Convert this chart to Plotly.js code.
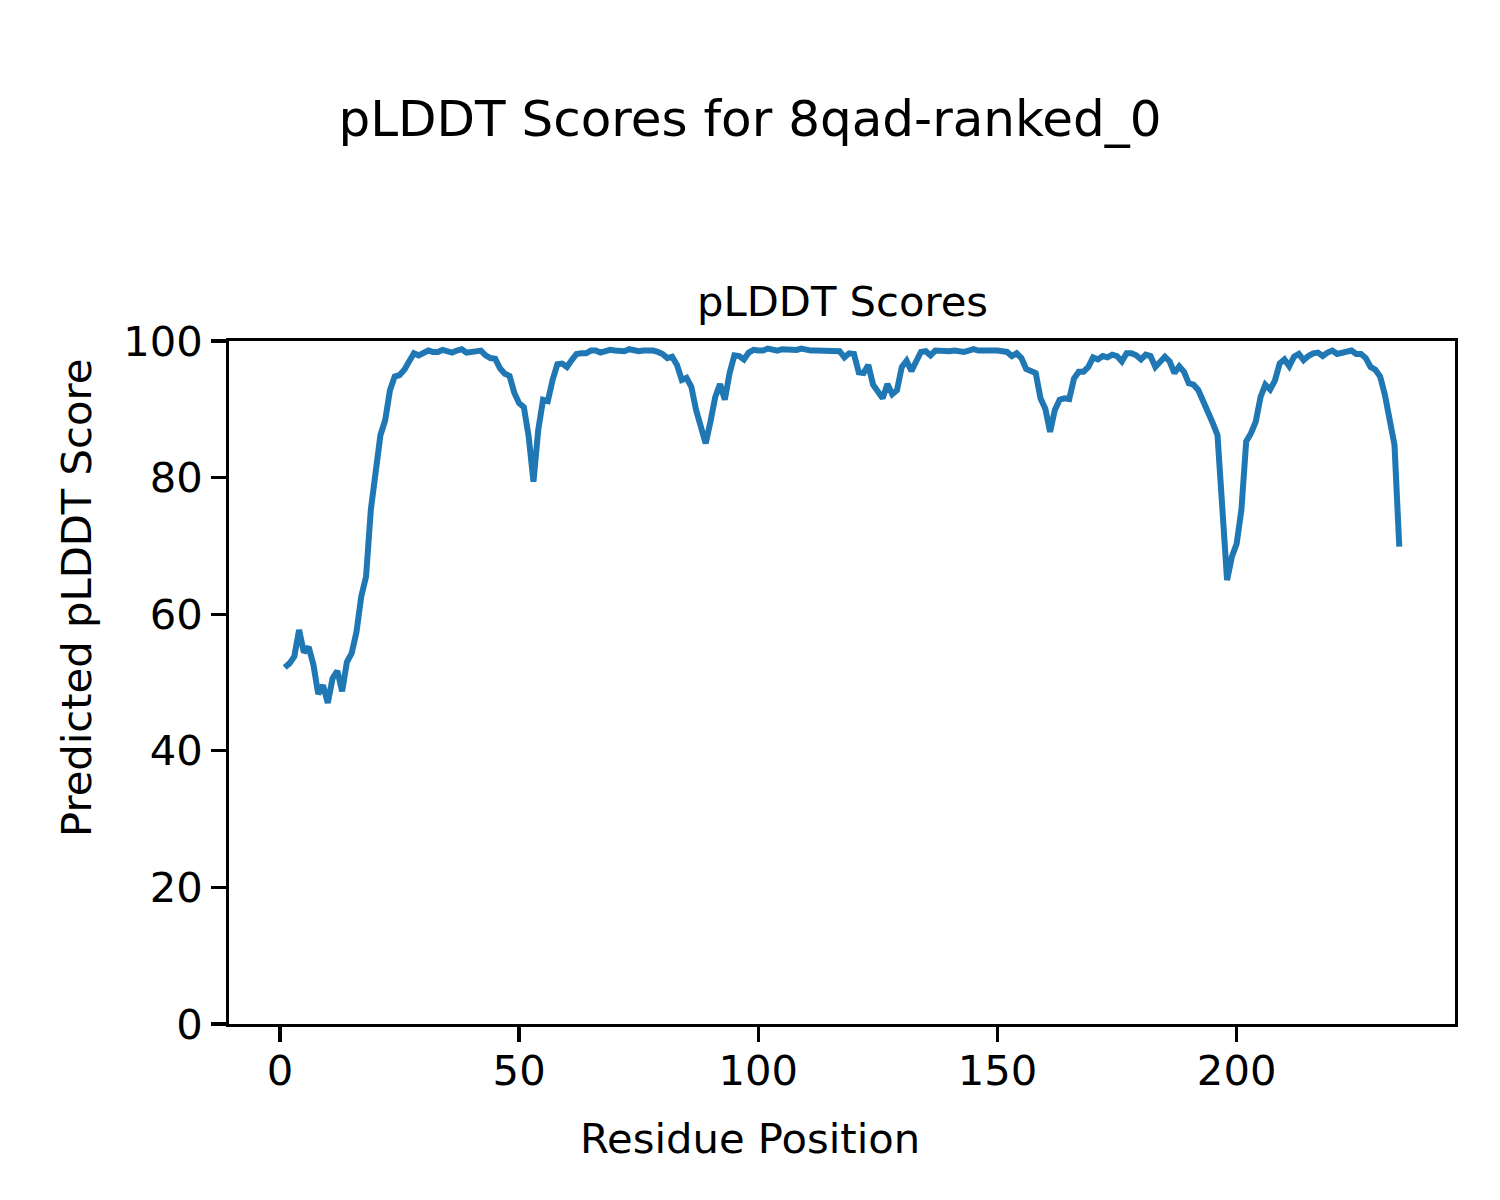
<!DOCTYPE html>
<html>
<head>
<meta charset="utf-8">
<script src="https://cdn.plot.ly/plotly-3.0.1.min.js"></script>
<style>
  html, body { margin: 0; padding: 0; background: #ffffff; }
  #chart { width: 1500px; height: 1200px; }
</style>
</head>
<body>
<div id="chart"></div>
<script>
// pLDDT score per residue (residues numbered from 1)
const plddtScores = [
  52.2, 52.8, 53.8, 57.7, 54.4, 55.2, 52.6, 48.3, 49.6, 47.0,
  50.6, 51.7, 48.7, 53.0, 54.3, 57.4, 62.6, 65.5, 75.3, 81.0,
  86.2, 88.4, 92.8, 94.8, 95.0, 95.8, 97.2, 98.2, 97.9, 98.3,
  98.6, 98.4, 98.4, 98.7, 98.6, 98.3, 98.6, 98.8, 98.3, 98.4,
  98.4, 98.6, 97.9, 97.5, 97.4, 96.0, 95.2, 94.9, 92.4, 90.9,
  90.3, 86.0, 79.4, 87.0, 91.4, 91.2, 94.3, 96.6, 96.7, 96.2,
  97.2, 98.1, 98.2, 98.2, 98.6, 98.6, 98.3, 98.5, 98.7, 98.6,
  98.6, 98.5, 98.8, 98.6, 98.5, 98.6, 98.7, 98.6, 98.4, 98.1,
  97.5, 97.7, 96.5, 94.3, 94.6, 93.3, 89.9, 87.7, 85.0, 88.2,
  91.8, 93.7, 91.4, 95.3, 97.9, 97.8, 97.3, 98.3, 98.7, 98.6,
  98.6, 98.9, 98.7, 98.6, 98.8, 98.8, 98.6, 98.7, 98.9, 98.7,
  98.6, 98.6, 98.6, 98.7, 98.7, 98.5, 98.5, 97.6, 98.2, 98.1,
  95.4, 95.3, 96.5, 93.6, 92.6, 91.6, 93.7, 92.2, 92.8, 96.2,
  97.1, 95.6, 97.0, 98.4, 98.5, 97.9, 98.6, 98.5, 98.4, 98.5,
  98.6, 98.5, 98.4, 98.6, 98.8, 98.6, 98.6, 98.7, 98.8, 98.6,
  98.5, 98.4, 97.8, 98.2, 97.5, 95.9, 95.6, 95.3, 91.6, 90.1,
  86.7, 89.9, 91.4, 91.6, 91.5, 94.5, 95.5, 95.5, 96.2, 97.6,
  97.3, 97.8, 97.6, 98.0, 97.8, 97.0, 98.2, 98.2, 97.9, 97.3,
  98.0, 97.8, 96.2, 97.0, 97.7, 97.0, 95.3, 96.3, 95.5, 93.8,
  93.6, 92.8, 91.3, 90.0, 88.0, 86.2, 75.5, 65.0, 68.4, 70.3,
  75.3, 85.3, 86.5, 88.2, 91.8, 93.6, 92.9, 94.2, 96.7, 97.3,
  96.3, 97.7, 98.1, 97.2, 97.8, 98.2, 98.3, 97.8, 98.3, 98.6,
  98.1, 98.3, 98.4, 98.6, 98.1, 98.1, 97.5, 96.2, 95.8, 94.8,
  92.1, 88.9, 84.8, 69.9
];
const residuePositions = plddtScores.map((_, i) => i + 1);

const xTickValues = [0, 50, 100, 150, 200];
const yTickValues = [0, 20, 40, 60, 80, 100];

const figureTitle = "pLDDT Scores for 8qad-ranked_0";
const axesTitle = "pLDDT Scores";
const xLabel = "Residue Position";
const yLabel = "Predicted pLDDT Score";

const FONT = "DejaVu Sans, sans-serif";
const FS = 41.7;

const trace = {
  x: residuePositions,
  y: plddtScores,
  type: "scatter",
  mode: "lines",
  line: { color: "#1f77b4", width: 6 },
  hoverinfo: "skip"
};

const axisCommon = {
  showgrid: false,
  zeroline: false,
  showline: true,
  mirror: true,
  linecolor: "#000000",
  linewidth: 3.3,
  ticks: "outside",
  ticklen: 14.6,
  tickwidth: 3.3,
  tickcolor: "#000000",
  tickfont: { family: FONT, size: FS, color: "#000000" }
};

const layout = {
  width: 1500,
  height: 1200,
  paper_bgcolor: "#ffffff",
  plot_bgcolor: "#ffffff",
  showlegend: false,
  margin: { l: 229, r: 45, t: 341, b: 176, pad: 0 },
  font: { family: FONT, color: "#000000" },
  title: {
    text: figureTitle,
    font: { family: FONT, size: 50, color: "#000000" },
    x: 0.5, xref: "container", xanchor: "center",
    y: 1 - 118 / 1200, yref: "container", yanchor: "middle"
  },
  xaxis: Object.assign({}, axisCommon, {
    range: [-10.65, 245.65],
    tickmode: "array",
    tickvals: xTickValues,
    ticktext: xTickValues.map(String),
    ticklabelstandoff: -7
  }),
  yaxis: Object.assign({}, axisCommon, {
    range: [0, 100],
    tickmode: "array",
    tickvals: yTickValues,
    ticktext: yTickValues.map(String)
  }),
  annotations: [
    {
      text: axesTitle, showarrow: false,
      xref: "paper", yref: "paper",
      x: 0.5, y: 1 + 39 / 683, xanchor: "center", yanchor: "middle",
      font: { family: FONT, size: FS, color: "#000000" }
    },
    {
      text: xLabel, showarrow: false,
      xref: "paper", yref: "paper",
      x: (750 - 229) / 1226, y: (1024 - 1138) / 683,
      xanchor: "center", yanchor: "middle",
      font: { family: FONT, size: FS, color: "#000000" }
    },
    {
      text: yLabel, showarrow: false, textangle: -90,
      xref: "paper", yref: "paper",
      x: (76 - 229) / 1226, y: (1024 - 598) / 683,
      xanchor: "center", yanchor: "middle",
      font: { family: FONT, size: FS, color: "#000000" }
    }
  ]
};

Plotly.newPlot("chart", [trace], layout, { displayModeBar: false, staticPlot: true });
</script>
</body>
</html>
